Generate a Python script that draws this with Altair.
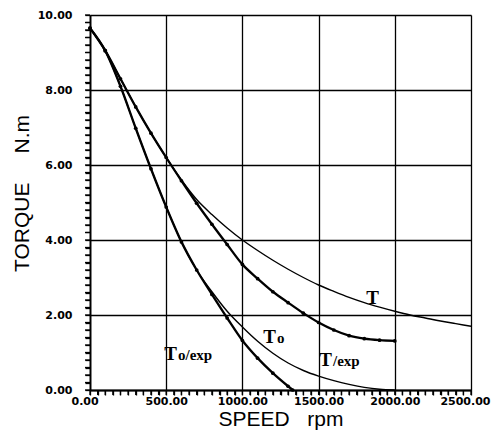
import altair as alt
import pandas as pd

# ---- data ----
# T (thin, model torque)
rpm_T = [0, 100, 200, 300, 400, 500, 600, 700, 800, 900, 1000, 1100, 1200, 1300,
         1400, 1500, 1600, 1700, 1800, 1900, 2000, 2100, 2200, 2300, 2400, 2500]
torque_T = [9.65, 9.05, 8.3, 7.55, 6.85, 6.2, 5.6, 5.08, 4.68, 4.32, 4.0, 3.72, 3.46, 3.22,
            3.0, 2.8, 2.63, 2.47, 2.33, 2.21, 2.1, 2.0, 1.92, 1.84, 1.77, 1.7]

# T/exp (dotted, measured)
rpm_Texp = [0, 100, 200, 300, 400, 500, 600, 700, 800, 900, 1000, 1100, 1200, 1300,
            1400, 1500, 1600, 1700, 1800, 1900, 2000]
torque_Texp = [9.65, 9.05, 8.3, 7.55, 6.85, 6.2, 5.58, 4.98, 4.42, 3.88, 3.35, 2.97, 2.62, 2.33,
               2.05, 1.8, 1.6, 1.45, 1.37, 1.33, 1.31]

# To (thin, model)
rpm_To = [0, 100, 200, 300, 400, 500, 600, 700, 800, 900, 1000, 1100, 1200, 1300,
          1400, 1500, 1600, 1700, 1800, 1900, 2000]
torque_To = [9.65, 9.05, 8.1, 6.98, 5.9, 4.88, 3.95, 3.2, 2.62, 2.1, 1.68, 1.3, 0.98, 0.72,
             0.52, 0.37, 0.25, 0.15, 0.07, 0.02, 0.0]

# To/exp (dotted, measured)
rpm_Toexp = [0, 100, 200, 300, 400, 500, 600, 700, 800, 900, 1000, 1100, 1200, 1300, 1330]
torque_Toexp = [9.65, 9.05, 8.1, 6.98, 5.9, 4.88, 3.95, 3.2, 2.55, 1.92, 1.32, 0.85, 0.45, 0.1, 0.0]

# curve labels (anchor = right edge of the big "T", on its baseline)
label_big = ["T", "T", "T", "T"]
label_small = ["", "o", "/exp", "o/exp"]
label_rpm = [1896, 1220, 1588, 571]
label_torque = [2.29, 1.25, 0.64, 0.8]

x_ticks = [i * 50 for i in range(51)]
y_ticks = [round(i * 0.2, 1) for i in range(51)]

NB = "\u00a0"
x_title = "SPEED" + NB * 3 + "rpm"
y_title = "TORQUE" + NB * 5 + "N.m"

# ---- tables ----
thin = pd.concat([
    pd.DataFrame({"rpm": rpm_T, "torque": torque_T, "series": "T"}),
    pd.DataFrame({"rpm": rpm_To, "torque": torque_To, "series": "To"}),
])
dotted = pd.concat([
    pd.DataFrame({"rpm": rpm_Texp, "torque": torque_Texp, "series": "T/exp"}),
    pd.DataFrame({"rpm": rpm_Toexp, "torque": torque_Toexp, "series": "To/exp"}),
])
labels = pd.DataFrame({"rpm": label_rpm, "torque": label_torque,
                       "big": label_big, "small": label_small})
xt = pd.DataFrame({"rpm": x_ticks})
yt = pd.DataFrame({"torque": y_ticks})

y_major = "abs(datum.value - round(datum.value / 2) * 2) < 1e-6"

x_axis = alt.Axis(
    values=x_ticks, format=".2f",
    labelExpr="datum.value % 500 === 0 ? datum.label : ''",
    labelOverlap=False, labelFlush=True, labelFlushOffset=19,
    grid=True, gridColor="black", gridWidth=1.3,
    gridOpacity={"condition": {"test": "datum.value % 500 === 0", "value": 1}, "value": 0},
    ticks=True, tickColor="black", tickOpacity=1, tickSize=5, tickWidth=1.3,
    domainColor="black", domainWidth=1.8,
    labelFont="DejaVu Sans", labelFontWeight="bold", labelFontSize=11,
    labelColor="black", labelPadding=0,
    title=x_title, titleFont="Liberation Sans", titleFontSize=21,
    titleFontWeight="normal", titleColor="black", titlePadding=2,
)
y_axis = alt.Axis(
    values=y_ticks, format=".2f",
    labelExpr=y_major + " ? datum.label : ''",
    labelOverlap=False, labelFlush=False,
    grid=True, gridColor="black", gridWidth=1.3,
    gridOpacity={"condition": {"test": y_major, "value": 1}, "value": 0},
    ticks=True, tickColor="black", tickOpacity=1, tickSize=5, tickWidth=1.3,
    domainColor="black", domainWidth=1.8,
    labelFont="DejaVu Sans", labelFontWeight="bold", labelFontSize=11,
    labelColor="black", labelPadding=13,
    title=y_title, titleFont="Liberation Sans", titleFontSize=21,
    titleFontWeight="normal", titleColor="black", titlePadding=5, titleY=178,
)

x_enc = alt.X("rpm:Q", scale=alt.Scale(domain=[0, 2500], nice=False), axis=x_axis)
y_enc = alt.Y("torque:Q", scale=alt.Scale(domain=[0, 10], nice=False), axis=y_axis)

# minor tick marks along the axes
x_minor = alt.Chart(xt).mark_rule(color="black", strokeWidth=1.3).encode(
    x=x_enc, y=alt.value(375), y2=alt.value(380))
y_minor = alt.Chart(yt).mark_rule(color="black", strokeWidth=1.3).encode(
    y=y_enc, x=alt.value(-5), x2=alt.value(0))

thin_layer = alt.Chart(thin).mark_line(
    color="black", strokeWidth=1.4, interpolate="monotone"
).encode(x=x_enc, y=y_enc, detail="series:N")

dotted_layer = alt.Chart(dotted).mark_line(
    color="black", strokeWidth=2.3, interpolate="monotone",
    point=alt.OverlayMarkDef(filled=True, color="black", size=14),
).encode(x=x_enc, y=y_enc, detail="series:N")

big_text = alt.Chart(labels).mark_text(
    font="Liberation Serif", fontSize=19, fontWeight="bold", color="black",
    align="right", baseline="alphabetic",
).encode(x=x_enc, y=y_enc, text="big:N")

small_text = alt.Chart(labels).mark_text(
    font="Liberation Serif", fontSize=15, fontWeight="bold", color="black",
    align="left", baseline="alphabetic", dx=1,
).encode(x=x_enc, y=y_enc, text="small:N")

chart = alt.layer(x_minor, y_minor, thin_layer, dotted_layer, big_text, small_text).properties(
    width=381, height=375,
    autosize=alt.AutoSizeParams(type="none"),
    padding={"left": 82, "top": 7, "right": 20, "bottom": 41},
).configure_view(stroke="black", strokeWidth=1.8).configure(background="white")

chart.save("out.html", embed_options={"renderer": "svg", "actions": False})
